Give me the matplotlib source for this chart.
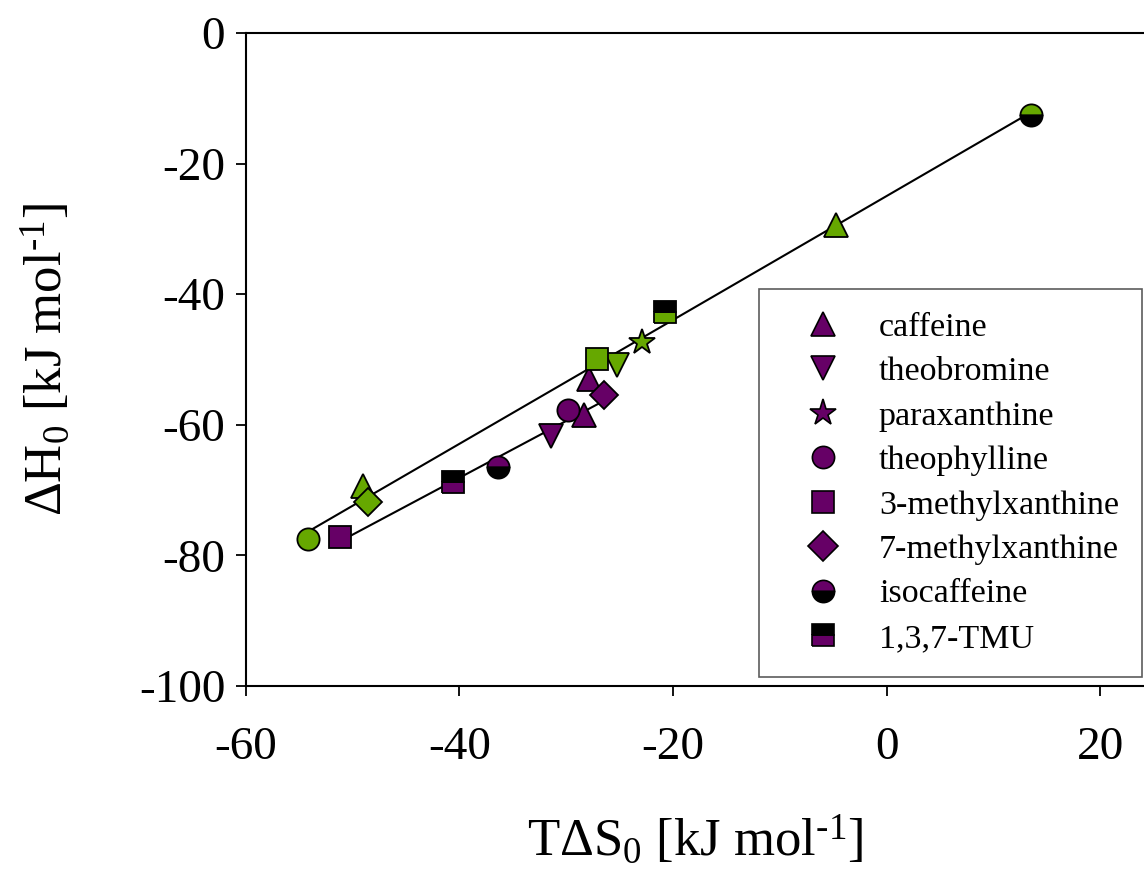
import matplotlib
matplotlib.use("Agg")
import matplotlib.pyplot as plt
import numpy as np

plt.rcParams['font.family'] = ['Liberation Serif', 'DejaVu Serif']
plt.rcParams['mathtext.fontset'] = 'custom'
plt.rcParams['mathtext.rm'] = 'Liberation Serif'
plt.rcParams['mathtext.it'] = 'Liberation Serif:italic'

purple = '#660066'
green = '#66a800'

compounds = ['caffeine', 'theobromine', 'paraxanthine', 'theophylline',
             '3-methylxanthine', '7-methylxanthine', 'isocaffeine', '1,3,7-TMU']
markers = ['^', 'v', '*', 'o', 's', 'D', 'o', 's']
fills = ['full', 'full', 'full', 'full', 'full', 'full', 'top', 'bottom']

# T*dS0, dH0 values, purple series
purple_x = [[-28.3, -27.9], [-31.4], [], [-29.8], [-51.2], [-26.5], [-36.4], [-40.6]]
purple_y = [[-58.5, -53.0], [-61.7], [], [-57.7], [-77.2], [-55.4], [-66.4], [-68.7]]
# green series
green_x = [[-49.0, -4.75], [-25.25], [-22.9], [-54.15], [-27.15], [-48.6], [13.5], [-20.75]]
green_y = [[-69.4, -29.4], [-50.9], [-47.3], [-77.5], [-49.9], [-71.9], [-12.5], [-42.7]]

fig = plt.figure(figsize=(11.44, 8.72), dpi=100)
ax = fig.add_axes([0.215, 0.2133, 0.785, 0.7489])

# fitted lines
def fitline(xs, ys, skip=()):
    xx = []
    yy = []
    for i in range(len(xs)):
        for j in range(len(xs[i])):
            if (i, j) in skip:
                continue
            xx.append(xs[i][j])
            yy.append(ys[i][j])
    xx = np.array(xx)
    yy = np.array(yy)
    k, b = np.polyfit(xx, yy, 1)
    lx = np.array([xx.min(), xx.max()])
    ax.plot(lx, k * lx + b, color='black', lw=1.5, zorder=1)

fitline(green_x, green_y)
fitline(purple_x, purple_y, skip=((0, 1),))

sizes = {'^': 17, 'v': 17, '*': 19, 'o': 16, 's': 16, 'D': 14}
legsizes = {'^': 17, 'v': 17, '*': 20, 'o': 16, 's': 16, 'D': 15}

for i in range(len(compounds)):
    m = markers[i]
    ax.plot(green_x[i], green_y[i], ls='none', marker=m, ms=sizes[m],
            mfc=green, mfcalt='black', fillstyle=fills[i], mec='black', mew=1.3, zorder=3)
    ax.plot(purple_x[i], purple_y[i], ls='none', marker=m, ms=sizes[m],
            mfc=purple, mfcalt='black', fillstyle=fills[i], mec='black', mew=1.3, zorder=3)

# legend handles (purple)
handles = []
for i in range(len(compounds)):
    m = markers[i]
    h, = ax.plot([], [], ls='none', marker=m, ms=legsizes[m],
                 mfc=purple, mfcalt='black', fillstyle=fills[i], mec='black', mew=1.2)
    handles.append(h)

leg = ax.legend(handles, compounds, loc='lower right', bbox_to_anchor=(0.9978, 0.0138),
                borderaxespad=0, fontsize=24.5, frameon=True, fancybox=False,
                edgecolor='#333333', labelspacing=0.40, handletextpad=0.44,
                borderpad=0.68, handlelength=2.4)
leg.get_frame().set_linewidth(1.2)

ax.set_xlim(-60, 24.12)
ax.set_ylim(-100, 0)
ax.set_xticks([-60, -40, -20, 0, 20])
ax.set_yticks([-100, -80, -60, -40, -20, 0])
ax.set_xticklabels(['-60', '-40', '-20', '0', '20'])
ax.set_yticklabels(['-100', '-80', '-60', '-40', '-20', '0'])
ax.spines['right'].set_visible(False)
for s in ['left', 'bottom', 'top']:
    ax.spines[s].set_linewidth(1.5)
ax.tick_params(direction='out', length=7, width=1.3, labelsize=34)
ax.tick_params(axis='x', pad=22)
ax.tick_params(axis='y', pad=8)

ax.set_xlabel(r'T$\Delta$S$_0$ [kJ mol$^{\text{-1}}$]', fontsize=38, labelpad=32)
ax.set_ylabel(r'$\Delta$H$_0$ [kJ mol$^{\text{-1}}$]', fontsize=38, labelpad=48)

fig.savefig('out.png', dpi=100)
